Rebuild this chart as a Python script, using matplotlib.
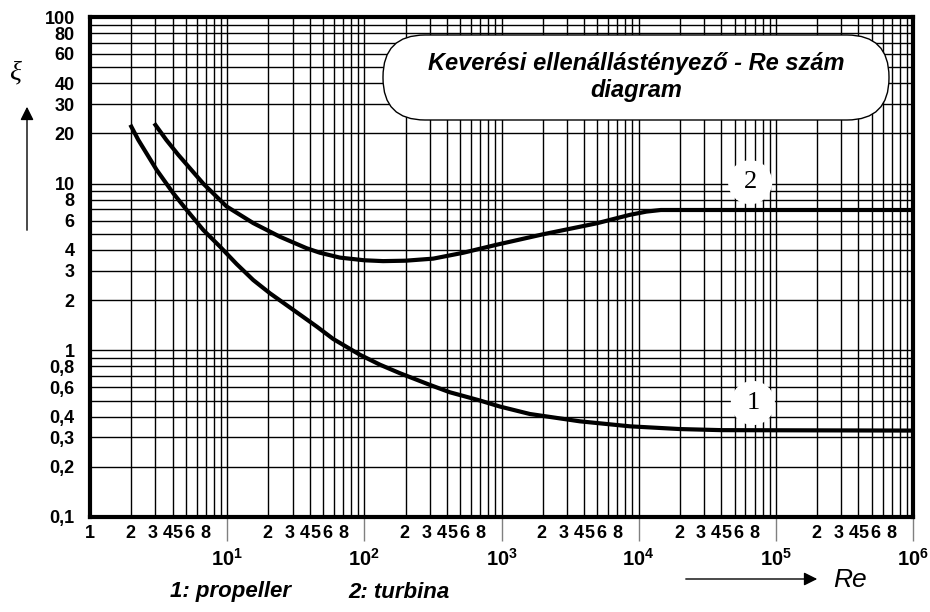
import matplotlib
matplotlib.use('Agg')
import matplotlib.pyplot as plt
import numpy as np
from matplotlib.ticker import LogLocator, NullFormatter
from matplotlib.patches import FancyBboxPatch
from matplotlib.transforms import ScaledTranslation, IdentityTransform

plt.rcParams['font.family'] = 'Liberation Sans'
plt.rcParams['mathtext.fontset'] = 'custom'
plt.rcParams['mathtext.bf'] = 'Liberation Sans:bold'
plt.rcParams['mathtext.rm'] = 'Liberation Sans'

# ---- curve 1: propeller ----
re_prop = [2.0, 2.25, 3.06, 4.05, 5.07, 6.7, 8.87, 11.7, 15.5, 20.5, 30.3, 44.9,
           59.3, 93, 130, 181, 301, 421, 696, 973, 1610, 3730, 8630, 2e4, 4e4, 1e6]
xi_prop = [22, 18.3, 12.1, 8.75, 6.95, 5.27, 4.19, 3.3, 2.64, 2.2, 1.75, 1.39,
           1.17, 0.94, 0.82, 0.73, 0.62, 0.56, 0.50, 0.46, 0.415, 0.375, 0.35, 0.337, 0.332, 0.33]

# ---- curve 2: turbina ----
re_turb = [3.0, 3.6, 4.4, 6.7, 9.9, 15.5, 24.3, 37.9, 47.5, 66.4, 100, 137, 200,
           318, 526, 921, 2010, 4930, 8630, 11400, 14500, 1e6]
xi_turb = [22.5, 18.3, 14.9, 10.0, 7.3, 5.8, 4.8, 4.1, 3.85, 3.6, 3.47, 3.43, 3.45,
           3.55, 3.85, 4.3, 4.97, 5.78, 6.5, 6.8, 6.95, 6.95]

# tick labels
y_ticks = [0.1, 0.2, 0.3, 0.4, 0.6, 0.8, 1, 2, 3, 4, 6, 8, 10, 20, 30, 40, 60, 80, 100]
y_labels = ['0,1', '0,2', '0,3', '0,4', '0,6', '0,8', '1', '2', '3', '4', '6', '8',
            '10', '20', '30', '40', '60', '80', '100']
decade_exp = [1, 2, 3, 4, 5, 6]
minor_mult = [2, 3, 4, 5, 6, 7, 8, 9]
minor_labeled = {1: '1', 2: '2', 3: '3', 4: '4', 5: '5', 6: '6', 8: '8'}
label_shift = {1: 0, 2: -1, 3: -3, 4: -5, 5: -8, 6: -7, 8: -8}   # pixels, squeezed like the original

W, H = 930, 612
fig = plt.figure(figsize=(W / 100, H / 100), dpi=100)
ax = fig.add_axes([90 / W, 1 - 517 / H, (913 - 90) / W, (517 - 17) / H])

ax.set_xscale('log')
ax.set_yscale('log')

ax.plot(re_prop, xi_prop, color='black', lw=3, zorder=3)
ax.plot(re_turb, xi_turb, color='black', lw=3, zorder=3)

ax.set_xlim(1, 1e6)
ax.set_ylim(0.1, 100)

# y axis
ax.set_yticks(y_ticks)
ax.set_yticklabels(y_labels, fontsize=13, fontweight='bold')
ax.yaxis.set_minor_locator(LogLocator(base=10, subs=np.arange(2, 10)))
ax.yaxis.set_minor_formatter(NullFormatter())
ax.tick_params(axis='y', which='both', length=0, pad=11)

# x axis: decades
ax.set_xticks([10.0 ** k for k in decade_exp])
ax.set_xticklabels([r'$\mathbf{10^{%d}}$' % k for k in decade_exp], fontsize=14.5)
ax.tick_params(axis='x', which='major', length=17, width=1, color='gray', pad=5,
               direction='out')

# x axis: 1..9 inside each decade
minor_locs, minor_txt, minor_m = [1.0], ['1'], [1]
for k in range(6):
    for m in minor_mult:
        minor_locs.append(m * 10.0 ** k)
        minor_txt.append(minor_labeled.get(m, ''))
        minor_m.append(m)
ax.set_xticks(minor_locs, minor=True)
ax.set_xticklabels(minor_txt, minor=True, fontsize=13, fontweight='bold')
ax.tick_params(axis='x', which='minor', length=0, pad=6)

for tick, m in zip(ax.xaxis.get_minor_ticks(), minor_m):
    dx = label_shift.get(m, 0)
    lab = tick.label1
    lab.set_transform(lab.get_transform() + ScaledTranslation(dx / 100, 0, fig.dpi_scale_trans))

ax.grid(which='both', color='black', lw=1.0)
ax.set_axisbelow(True)
for s in ax.spines.values():
    s.set_linewidth(3)
    s.set_zorder(4)

# curve labels in white circles
ax.text(6.5e4, 10.2, '2', ha='center', va='center', fontsize=19, family='Liberation Serif',
        bbox=dict(boxstyle='circle,pad=0.42', fc='white', ec='none'), zorder=4)
ax.text(6.8e4, 0.483, '1', ha='center', va='center', fontsize=19, family='Liberation Serif',
        bbox=dict(boxstyle='circle,pad=0.42', fc='white', ec='none'), zorder=4)

# title box
box = FancyBboxPatch((383, H - 120), 506, 85, boxstyle='round,pad=0,rounding_size=42',
                     transform=IdentityTransform(), fc='white', ec='black', lw=1, zorder=5)
fig.add_artist(box)
fig.text(636 / W, 1 - 77 / H, 'Keverési ellenállástényező - Re szám\ndiagram',
         ha='center', va='center', fontsize=17, fontweight='bold', style='italic',
         linespacing=1.2, zorder=6)

# axis names
fig.text(15 / W, 1 - 73 / H, 'ξ', ha='center', va='center', fontsize=20,
         family='Liberation Serif', style='italic')
ax.annotate('', xy=(27, H - 104), xycoords='figure pixels', xytext=(27, H - 233),
            textcoords='figure pixels', annotation_clip=False,
            arrowprops=dict(arrowstyle='-|>', lw=1, color='black', mutation_scale=20))
ax.annotate('', xy=(820, H - 579), xycoords='figure pixels', xytext=(683, H - 579),
            textcoords='figure pixels', annotation_clip=False,
            arrowprops=dict(arrowstyle='-|>', lw=1, color='black', mutation_scale=20))
fig.text(833 / W, 1 - 580 / H, 'Re', ha='left', va='center', fontsize=19, style='italic')

fig.text(170 / W, 1 - 592 / H, '1: propeller', ha='left', va='center', fontsize=16,
         fontweight='bold', style='italic')
fig.text(348 / W, 1 - 592 / H, '2: turbina', ha='left', va='center', fontsize=16,
         fontweight='bold', style='italic')

fig.savefig('out.png', dpi=100)
